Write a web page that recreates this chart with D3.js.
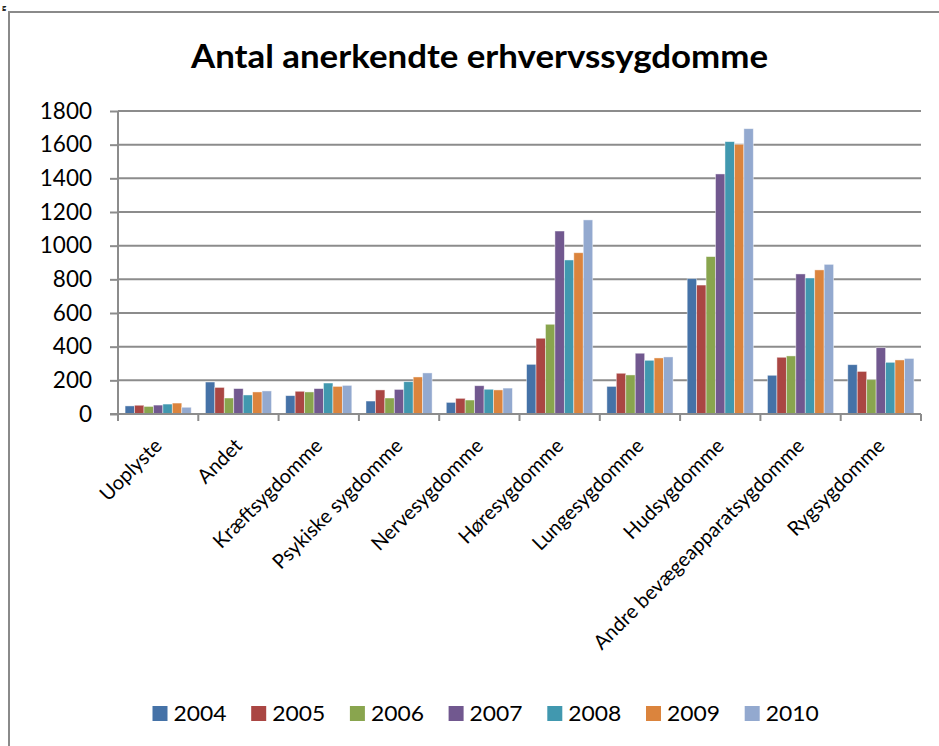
<!DOCTYPE html>
<html><head><meta charset="utf-8">
<script src="https://cdn.jsdelivr.net/npm/d3@7"></script>
<style>body{margin:0;background:#fff}svg{display:block}text{font-family:Lato,"Open Sans",sans-serif;fill:#000}</style>
</head><body>
<script>
const title = "Antal anerkendte erhvervssygdomme";
const categories = ["Uoplyste","Andet","Kræftsygdomme","Psykiske sygdomme","Nervesygdomme","Høresygdomme","Lungesygdomme","Hudsygdomme","Andre bevægeapparatsygdomme","Rygsygdomme"];
const years = ["2004","2005","2006","2007","2008","2009","2010"];
const colors = ["#4572A7","#AA4643","#89A54E","#71588F","#4198AF","#DB843D","#93A9CF"];
const s2004 = [48,190,109,77,69,295,164,804,230,293];
const s2005 = [52,158,135,143,93,450,242,766,337,253];
const s2006 = [45,95,131,95,83,533,232,935,345,204];
const s2007 = [53,151,151,146,168,1087,361,1426,832,394];
const s2008 = [59,113,184,192,147,915,319,1618,808,307];
const s2009 = [65,131,164,220,143,958,333,1602,856,321];
const s2010 = [40,137,170,244,154,1153,339,1695,889,330];
const series = [s2004,s2005,s2006,s2007,s2008,s2009,s2010];
const yTicks = [0,200,400,600,800,1000,1200,1400,1600,1800];

const W=939,H=746;
const svg=d3.select("body").append("svg").attr("width",W).attr("height",H);
// outer frame
svg.append("rect").attr("x",9).attr("y",12).attr("width",960).attr("height",760)
  .attr("fill","none").attr("stroke","#8a8a8a").attr("stroke-width",2);
svg.append("text").attr("x",2).attr("y",10).attr("font-weight","bold").attr("font-size",8).text("g");

const L=118,R=921,T=111,B=414;
const x=d3.scaleBand().domain(categories).range([L,R]).paddingInner(0).paddingOuter(0);
const y=d3.scaleLinear().domain([0,1800]).range([B,T]);
const barW = x.bandwidth()/(7+1.5);
const xs=d3.scaleBand().domain(years).range([barW*0.75, barW*0.75+barW*7]);

// gridlines
svg.append("g").selectAll("line").data(yTicks.filter(d=>d>0)).join("line")
  .attr("x1",L).attr("x2",R).attr("y1",d=>y(d)).attr("y2",d=>y(d))
  .attr("stroke","#8c8c8c").attr("stroke-width",2);

// bars
years.forEach((yr,i)=>{
  svg.append("g").selectAll("rect").data(series[i]).join("rect")
    .attr("x",(d,j)=>x(categories[j])+xs(yr))
    .attr("y",d=>y(d)).attr("width",xs.bandwidth()).attr("height",d=>B-y(d))
    .attr("fill",colors[i]).attr("stroke","rgba(255,255,255,0.55)").attr("stroke-width",0.8);
});

// y axis
const ya=svg.append("g").attr("transform",`translate(${L},0)`)
  .call(d3.axisLeft(y).tickValues(yTicks).tickSize(8).tickPadding(18).tickFormat(d3.format("d")));
ya.select(".domain").attr("stroke","#8c8c8c").attr("stroke-width",2).attr("d",`M0,${T}V${B}`);
ya.selectAll(".tick line").attr("stroke","#8c8c8c").attr("stroke-width",2);
ya.selectAll(".tick text").attr("font-size",22.5).attr("font-family","Lato").attr("fill","#000");

// x axis
const xa=svg.append("g").attr("transform",`translate(0,${B})`);
xa.append("line").attr("x1",L-8).attr("x2",R).attr("y1",0).attr("y2",0).attr("stroke","#8c8c8c").attr("stroke-width",2);
const bounds=categories.map(c=>x(c)).concat([R]);
xa.selectAll("line.tk").data(bounds).join("line").attr("class","tk")
  .attr("x1",d=>d).attr("x2",d=>d).attr("y1",0).attr("y2",7).attr("stroke","#8c8c8c").attr("stroke-width",2);
svg.append("g").selectAll("text").data(categories).join("text")
  .attr("transform",d=>`translate(${x(d)+x.bandwidth()/2+5},${B+33}) rotate(-45)`)
  .attr("text-anchor","end").attr("font-size",20).text(d=>d);

// title
svg.append("text").attr("x",479.5).attr("y",68).attr("text-anchor","middle")
  .attr("font-weight","bold").attr("font-size",33).text(title)
  .attr("textLength",577).attr("lengthAdjust","spacingAndGlyphs");

// legend
const lg=svg.append("g");
years.forEach((yr,i)=>{
  const lx=152.5+i*98.7;
  lg.append("rect").attr("x",lx).attr("y",706).attr("width",15).attr("height",15).attr("fill",colors[i]);
  lg.append("text").attr("x",lx+21).attr("y",721).attr("font-size",21).text(yr)
    .attr("textLength",53).attr("lengthAdjust","spacingAndGlyphs");
});
</script>
</body></html>
